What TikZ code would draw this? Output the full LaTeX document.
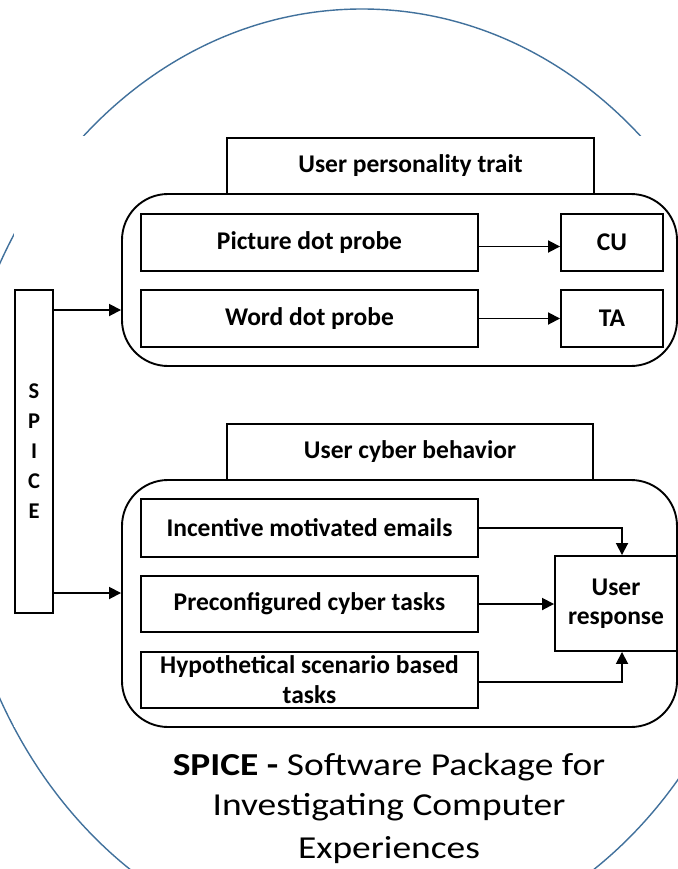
\documentclass[tikz,border=0pt]{standalone}
\usepackage{fontspec}
\setmainfont{Carlito}
\newfontfamily\capfont[FakeStretch=1.17]{Carlito}
\usetikzlibrary{arrows.meta,calc}
\definecolor{ellblue}{HTML}{41719C}
\begin{document}
\begin{tikzpicture}[x=1bp,y=-1bp,
  box/.style={draw=black,line width=1.9bp,inner sep=0pt,fill=white,
    font=\bfseries\fontsize{25.5bp}{29bp}\selectfont,align=center},
  rbox/.style={draw=black,line width=1.9bp,inner sep=0pt,rounded corners=46bp},
  arr/.style={line width=1.8bp,-{Triangle[length=12bp,width=12bp]}},
  captext/.style={font=\capfont\fontsize{32bp}{41.5bp}\selectfont,inner sep=0pt,anchor=base}]
\useasboundingbox (0,0) rectangle (678,869);
\clip (0,0) rectangle (678,869);
\fill[white] (0,0) rectangle (678,869);
% blue ellipse, partly hidden behind the diagram panel
\draw[ellblue,line width=1.4bp] (362,481) ellipse [x radius=408, y radius=472];
\fill[white] (14,136) rectangle (680,727);
% upper group
\node[rbox,minimum width=555bp,minimum height=172bp] (rb1) at (399.5,280) {};
\node[box,minimum width=367bp,minimum height=56bp] (h1) at (410.5,166) {User personality trait};
\node[box,minimum width=337bp,minimum height=57bp] (pdp) at (309.5,242.5) {Picture dot probe};
\node[box,minimum width=102bp,minimum height=57bp] (cu) at (612,242.5) {CU};
\node[box,minimum width=337bp,minimum height=57bp] (wdp) at (309.5,318.5) {Word dot probe};
\node[box,minimum width=102bp,minimum height=57bp] (ta) at (612,318.5) {TA};
% lower group
\node[rbox,minimum width=555bp,minimum height=247bp] (rb2) at (399.5,603.5) {};
\node[box,minimum width=366bp,minimum height=56bp] (h2) at (410,452) {User cyber behavior};
\node[box,minimum width=337bp,minimum height=58bp] (inc) at (309.5,528) {Incentive motivated emails};
\node[box,minimum width=337bp,minimum height=56bp] (pre) at (309.5,604) {Preconfigured cyber tasks};
\node[box,minimum width=337bp,minimum height=56bp,
  font=\bfseries\fontsize{25.5bp}{30bp}\selectfont] (hyp) at (309.5,680) {Hypothetical scenario based\\tasks};
\node[box,minimum width=122bp,minimum height=95bp,
  font=\bfseries\fontsize{25.5bp}{29bp}\selectfont] (ur) at (616,603.5) {User\\response};
% SPICE bar
\node[box,minimum width=38bp,minimum height=323bp,
  font=\bfseries\fontsize{22.5bp}{30bp}\selectfont] (spice) at (34,451.5) {S\\P\\I\\C\\E};
\coordinate (s1) at (spice.east |- 0,310);
\coordinate (s2) at (spice.east |- 0,593);
% connectors
\draw[arr] (s1) -- (rb1.west |- s1);
\draw[arr] (s2) -- (rb2.west |- s2);
\draw[arr] ([yshift=-4bp]pdp.east) -- ([yshift=-4bp]cu.west);
\draw[arr] (wdp.east) -- (ta.west);
\draw[arr] (inc.east) -| ([xshift=6bp]ur.north);
\draw[arr] (pre.east) -- (ur.west |- pre.east);
\draw[arr] ([yshift=-2bp]hyp.east) -| ([xshift=6bp]ur.south);
% caption
\node[captext] (cap1) at (389,775) {\textbf{SPICE -} Software Package for};
\node[captext] (cap2) at (389,815) {Investigating Computer};
\node[captext] (cap3) at (389,858) {Experiences};
\end{tikzpicture}
\end{document}
